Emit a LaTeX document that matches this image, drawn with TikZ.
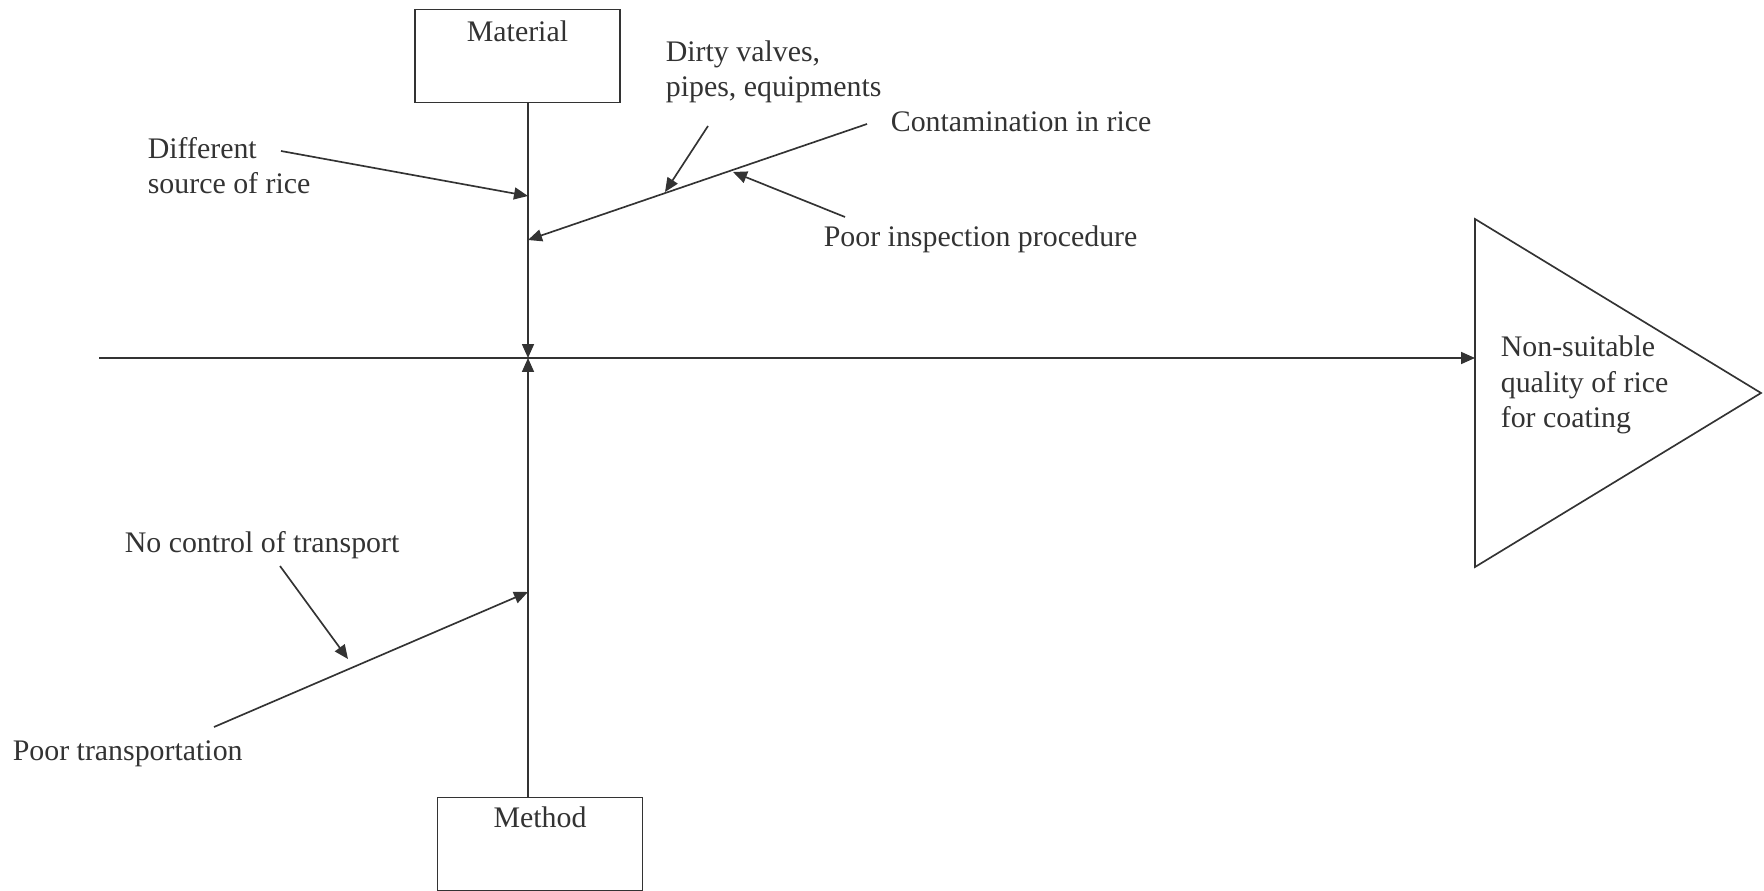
\documentclass[tikz,border=0pt]{standalone}
\usepackage{fontspec}
\setmainfont{Liberation Serif}
\usetikzlibrary{arrows.meta,positioning}
\tikzset{
    cause/.style={inner sep=0pt, align=left, font=\fontsize{17}{20}\selectfont},
    catbox/.style={draw, minimum width=4.1cm, minimum height=1.86cm, inner sep=0pt},
    bone/.style={-{Triangle[length=2.8mm,width=2.4mm]}},
}
\begin{document}
\begin{tikzpicture}[x=0.02cm, y=-0.02cm, line width=0.95pt, black!80]
            \useasboundingbox (0,0) rectangle (1764,891);

            % category boxes and spine
            \node[catbox] (material) at (517.5,56) {};
            \node[cause, anchor=base] (materiallbl) at ([yshift=-0.66cm]material.north) {Material};
            \node[catbox] (method) at (540,844) {};
            \node[cause, anchor=base] (methodlbl) at ([yshift=-0.62cm]method.north) {Method};

            \coordinate (hub) at (528,358);
            \coordinate (tail) at (99,358);
            \draw[bone] (material.south -| hub) -- (hub);
            \draw[bone] (method.north -| hub) -- (hub);

            % effect
            \coordinate (effecttop) at (1475,219);
            \coordinate (effecttip) at (1761,393);
            \coordinate (effectbot) at (1475,567);
            \draw (effecttop) -- (effecttip) -- (effectbot) -- cycle;
            \draw[bone] (tail) -- (tail -| effecttop);
            \node[cause, anchor=west] (effect) at (1500,385) {Non-suitable\\quality of rice\\for coating};

            % material causes
            \node[cause, anchor=west] (source) at (147,166) {Different\\source of rice};
            \coordinate (sourcefrom) at (281,151);
            \coordinate (sourceto) at (528,196);
            \draw[bone] (sourcefrom) -- (sourceto);

            \node[cause, anchor=base west] (contam) at (890,132) {Contamination in rice};
            \coordinate (contamfrom) at (867,124);
            \coordinate (contamto) at (528,240);
            \draw[bone] (contamfrom) -- (contamto);

            \node[cause, anchor=west] (dirty) at (665,72) {Dirty valves,\\pipes, equipments};
            \coordinate (dirtyfrom) at (708,126);
            \coordinate (dirtyto) at (665,192);
            \draw[bone] (dirtyfrom) -- (dirtyto);

            \node[cause, anchor=base west] (inspect) at (823,247) {Poor inspection procedure};
            \coordinate (inspectfrom) at (845,217);
            \coordinate (inspectto) at (733,172);
            \draw[bone] (inspectfrom) -- (inspectto);

            % method causes
            \node[cause, anchor=base west] (transport) at (12,760) {Poor transportation};
            \coordinate (transportfrom) at (214,727);
            \coordinate (transportto) at (528,592);
            \draw[bone] (transportfrom) -- (transportto);

            \node[cause, anchor=base west] (control) at (124,552) {No control of transport};
            \coordinate (controlfrom) at (280,566);
            \coordinate (controlto) at (348,659);
            \draw[bone] (controlfrom) -- (controlto);
\end{tikzpicture}
\end{document}
